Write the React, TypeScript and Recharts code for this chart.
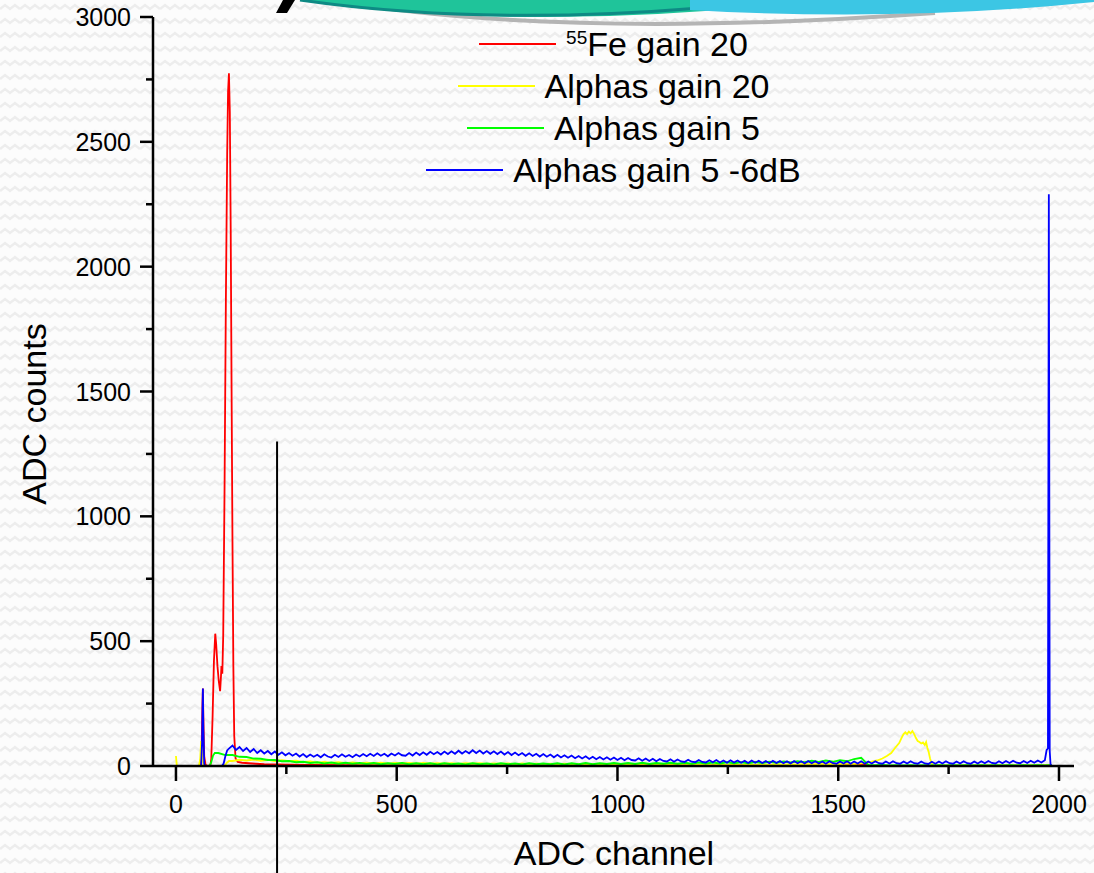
import { Legend, Line, LineChart, ReferenceLine, XAxis, YAxis } from "recharts";

// ADC spectrum: channel vs counts
const X_TICKS = [0, 250, 500, 750, 1000, 1250, 1500, 1750, 2000];
const Y_TICKS = [0, 250, 500, 750, 1000, 1250, 1500, 1750, 2000, 2250, 2500, 2750, 3000];

// 55Fe gain 20 — [channel, counts]
const RED_POINTS: [number, number][] = [
  [0, 0], [40, 0], [56, 0], [58, 60], [60, 250], [61, 310], [62, 200], [64, 40], [67, 5], [72, 0],
  [78, 2], [80, 30], [83, 200], [86, 420], [89, 530], [91, 490], [94, 400], [97, 340], [100, 300],
  [102, 360], [103, 400], [105, 370], [107, 520], [110, 1100], [113, 1850], [116, 2450], [118, 2700],
  [120, 2775], [122, 2620], [124, 2150], [126, 1500], [128, 900], [130, 400], [132, 120], [135, 30],
  [140, 16], [150, 13], [165, 11], [180, 9], [200, 7], [230, 6], [260, 5], [300, 4], [400, 3],
  [500, 3], [700, 2], [900, 2], [1100, 2], [1300, 3], [1400, 4], [1480, 5], [1570, 4],
];

// Alphas gain 20
const YELLOW_HEAD: [number, number][] = [
  [0, 40], [2, 0], [52, 0], [55, 30], [57, 100], [59, 50], [62, 5], [66, 0], [108, 0], [112, 6],
  [116, 14], [120, 20],
];
const YELLOW_START = 128;
const YELLOW_STEP = 16;
const YELLOW_BODY = [
  20, 25, 22, 26, 21, 25, 20, 23, 19, 21,
  15, 18, 13, 16, 12, 15, 11, 14, 10, 13,
  10, 13, 9, 12, 10, 12, 9, 12, 9, 11,
  9, 11, 8, 11, 9, 11, 8, 10, 8, 10,
  7, 10, 7, 9, 7, 9, 6, 9, 6, 8,
  6, 8, 5, 8, 5, 7, 5, 7, 4, 7,
  4, 6, 4, 6, 3, 6, 4, 6, 3, 5,
  4, 6, 3, 5, 4, 6, 4, 7, 5, 7,
  5, 8, 6, 9, 6, 9, 7, 10, 8, 11,
];
const YELLOW_PEAK: [number, number][] = [
  [1564, 12], [1576, 18], [1588, 22], [1600, 30], [1610, 40], [1620, 52], [1630, 75], [1638, 92],
  [1644, 115], [1648, 128], [1652, 135], [1656, 128], [1660, 138], [1664, 131], [1668, 140],
  [1672, 128], [1676, 112], [1680, 100], [1684, 96], [1688, 90], [1692, 94], [1696, 84], [1699, 96],
  [1702, 72], [1705, 55], [1708, 30], [1711, 12], [1715, 3], [1760, 2], [1840, 2], [1920, 2], [1984, 3],
];

// Alphas gain 5
const GREEN_HEAD: [number, number][] = [[0, 0], [76, 0], [80, 15], [84, 42], [88, 52]];
const GREEN_START = 96;
const GREEN_STEP = 16;
const GREEN_BODY = [
  52, 44, 44, 37, 36, 30, 29, 24, 24, 19,
  20, 15, 17, 12, 15, 10, 14, 9, 13, 9,
  12, 8, 12, 7, 11, 8, 12, 7, 11, 7,
  11, 6, 11, 7, 10, 6, 11, 7, 10, 6,
  11, 7, 10, 6, 11, 7, 10, 7, 11, 6,
  11, 7, 12, 7, 11, 8, 12, 8, 12, 8,
  13, 8, 12, 9, 13, 9, 13, 9, 14, 10,
  14, 10, 15, 11, 15, 11, 16, 12, 17, 13,
  18, 14, 19, 15, 21, 16, 22, 17, 23, 19,
  28, 33, 4, 3, 4, 2, 3, 2, 3, 2,
  3, 2, 3, 2, 3, 2, 3, 2, 3, 2,
  3, 2, 3, 2, 3, 2, 3, 2, 3,
];

// Alphas gain 5 -6dB
const BLUE_HEAD: [number, number][] = [
  [0, 0], [40, 0], [57, 0], [59, 90], [61, 310], [62, 150], [64, 10], [66, 0], [104, 0], [108, 10],
  [112, 40], [116, 62],
];
const BLUE_START = 120;
const BLUE_STEP = 8;
const BLUE_BODY = [
  70, 82, 64, 76, 60, 72, 56, 68, 52, 63,
  50, 60, 47, 58, 45, 55, 43, 52, 41, 50,
  38, 48, 36, 46, 37, 45, 35, 47, 38, 34,
  45, 36, 47, 37, 44, 35, 46, 38, 48, 39,
  49, 40, 51, 41, 49, 39, 50, 42, 52, 43,
  41, 52, 42, 54, 44, 55, 45, 57, 47, 56,
  46, 58, 48, 59, 49, 61, 50, 60, 51, 63,
  52, 62, 50, 60, 49, 59, 48, 58, 46, 56,
  44, 54, 43, 52, 41, 51, 40, 49, 38, 48,
  37, 46, 35, 45, 34, 43, 33, 42, 31, 40,
  30, 39, 28, 37, 27, 36, 26, 35, 25, 34,
  24, 33, 23, 32, 24, 22, 31, 21, 30, 20,
  29, 19, 28, 20, 18, 27, 17, 26, 18, 16,
  25, 17, 15, 24, 16, 14, 23, 15, 24, 14,
  22, 13, 23, 14, 22, 13, 21, 12, 22, 13,
  21, 12, 20, 11, 21, 12, 20, 11, 19, 10,
  20, 11, 19, 10, 20, 11, 19, 10, 18, 9,
  19, 11, 9, 18, 10, 19, 9, 18, 10, 19,
  9, 18, 10, 19, 11, 9, 18, 10, 19, 11,
  9, 18, 10, 19, 11, 9, 18, 10, 8, 17,
  9, 18, 10, 19, 11, 9, 18, 10, 19, 11,
  9, 18, 10, 19, 11, 20, 12, 10, 19, 11,
  20, 12, 21, 13, 11, 20, 12, 21, 13, 22,
  14, 23,
];
const BLUE_TAIL: [number, number][] = [
  [1972, 64], [1975, 70], [1977, 2290], [1979, 60], [1981, 3], [1984, 2],
];

// the black marker line drawn across the plot
const MARKER_CHANNEL = 229;
const MARKER_TOP = 1300;
const MARKER_BOTTOM = -440;

type Pt = { ch: number; v: number };
const pairs = (p: [number, number][]): Pt[] => p.map(([ch, v]) => ({ ch, v }));
const run = (start: number, step: number, vals: number[]): Pt[] =>
  vals.map((v, i) => ({ ch: start + i * step, v }));

const SERIES = [
  { name: "55Fe gain 20", color: "#ff0000", data: pairs(RED_POINTS) },
  {
    name: "Alphas gain 20",
    color: "#ffff00",
    data: [...pairs(YELLOW_HEAD), ...run(YELLOW_START, YELLOW_STEP, YELLOW_BODY), ...pairs(YELLOW_PEAK)],
  },
  {
    name: "Alphas gain 5",
    color: "#00ff00",
    data: [...pairs(GREEN_HEAD), ...run(GREEN_START, GREEN_STEP, GREEN_BODY)],
  },
  {
    name: "Alphas gain 5 -6dB",
    color: "#0000ff",
    data: [...pairs(BLUE_HEAD), ...run(BLUE_START, BLUE_STEP, BLUE_BODY), ...pairs(BLUE_TAIL)],
  },
];

const FONT = '"Liberation Sans", Arial, Helvetica, sans-serif';

const XTick = (props: any) => {
  const { x, y, payload } = props;
  const major = payload.value % 500 === 0;
  return (
    <g>
      <line x1={x} y1={y} x2={x} y2={y + (major ? 15 : 8)} stroke="#000" strokeWidth={2.5} />
      {major && (
        <text x={x} y={y + 47} textAnchor="middle" fontSize={25} fontFamily={FONT} fill="#000">
          {payload.value}
        </text>
      )}
    </g>
  );
};

const YTick = (props: any) => {
  const { x, y, payload } = props;
  const major = payload.value % 500 === 0;
  return (
    <g>
      <line x1={x} y1={y} x2={x - (major ? 13 : 7)} y2={y} stroke="#000" strokeWidth={2.5} />
      {major && (
        <text x={x - 22} y={y + 9} textAnchor="end" fontSize={25} fontFamily={FONT} fill="#000">
          {payload.value}
        </text>
      )}
    </g>
  );
};

const renderLegend = () => (
  <div style={{ fontFamily: FONT, fontSize: 34, color: "#000" }}>
    {SERIES.map((s) => {
      const m = s.name.match(/^(\d+)(.*)$/);
      return (
        <div
          key={s.name}
          style={{ display: "flex", justifyContent: "center", alignItems: "center", height: 42 }}
        >
          <span style={{ display: "inline-block", width: 77, height: 1.5, background: s.color, marginRight: 10 }} />
          {m ? (
            <span>
              <sup style={{ fontSize: 19, verticalAlign: 0, position: "relative", top: -12 }}>{m[1]}</sup>
              {m[2]}
            </span>
          ) : (
            <span>{s.name}</span>
          )}
        </div>
      );
    })}
  </div>
);

const BG =
  "url(\"data:image/svg+xml;utf8,<svg xmlns='http://www.w3.org/2000/svg' width='20' height='14'><path d='M0 9 L5 5 L10 9 L15 5 L20 9' fill='none' stroke='%23ededed' stroke-width='2.5'/></svg>\")";

export default function App() {
  return (
    <div
      style={{
        position: "absolute",
        left: 0,
        top: 0,
        width: 1094,
        height: 873,
        overflow: "hidden",
        backgroundColor: "#fcfcfc",
        backgroundImage: BG,
        fontFamily: FONT,
      }}
    >
      <svg width={1094} height={40} style={{ position: "absolute", left: 0, top: 0 }}>
        <path d="M 330 0 Q 560 40 935 13" fill="none" stroke="#b4b4b4" strokeWidth={4} />
        <path d="M 300 0 Q 520 32 780 4 L 780 0 Z" fill="#1fc49a" />
        <path d="M 300 0 Q 480 26 700 8" fill="none" stroke="#0e8a84" strokeWidth={3} />
        <path d="M 690 0 L 1094 0 L 1094 2 Q 900 22 690 10 Z" fill="#3cc6e4" />
        <path d="M 283 0 L 295 0 L 287 13 L 276 13 Z" fill="#000" />
      </svg>
      <LineChart
        width={1094}
        height={873}
        margin={{ top: 17, right: 20, bottom: 0, left: 93 }}
        style={{ position: "absolute", left: 0, top: 0 }}
      >
        <XAxis
          type="number"
          dataKey="ch"
          domain={[-52, 2034]}
          ticks={X_TICKS}
          interval={0}
          height={107}
          tickSize={0}
          tickMargin={0}
          tickLine={false}
          tick={<XTick />}
          axisLine={{ stroke: "#000", strokeWidth: 2.5 }}
          label={() => (
            <text x={614} y={865} textAnchor="middle" fontSize={34} fontFamily={FONT} fill="#000">
              ADC channel
            </text>
          )}
        />
        <YAxis
          type="number"
          dataKey="v"
          domain={[0, 3000]}
          ticks={Y_TICKS}
          interval={0}
          width={60}
          tickSize={0}
          tickMargin={0}
          tickLine={false}
          tick={<YTick />}
          axisLine={{ stroke: "#000", strokeWidth: 2.5 }}
          label={() => (
            <text
              x={34}
              y={414}
              transform="rotate(-90 34 414)"
              textAnchor="middle"
              dominantBaseline="central"
              fontSize={34}
              fontFamily={FONT}
              fill="#000"
            >
              ADC counts
            </text>
          )}
        />
        <Legend
          layout="vertical"
          align="center"
          verticalAlign="middle"
          content={renderLegend}
          wrapperStyle={{ top: 23, left: 153, width: 921, height: 170 }}
        />
        {SERIES.map((s) => (
          <Line
            key={s.name}
            data={s.data}
            dataKey="v"
            name={s.name}
            type="linear"
            stroke={s.color}
            strokeWidth={1.8}
            dot={false}
            activeDot={false}
            isAnimationActive={false}
          />
        ))}
        <ReferenceLine
          segment={[
            { x: MARKER_CHANNEL, y: MARKER_TOP },
            { x: MARKER_CHANNEL, y: MARKER_BOTTOM },
          ]}
          stroke="#000"
          strokeWidth={2}
          ifOverflow="visible"
        />
      </LineChart>
    </div>
  );
}
